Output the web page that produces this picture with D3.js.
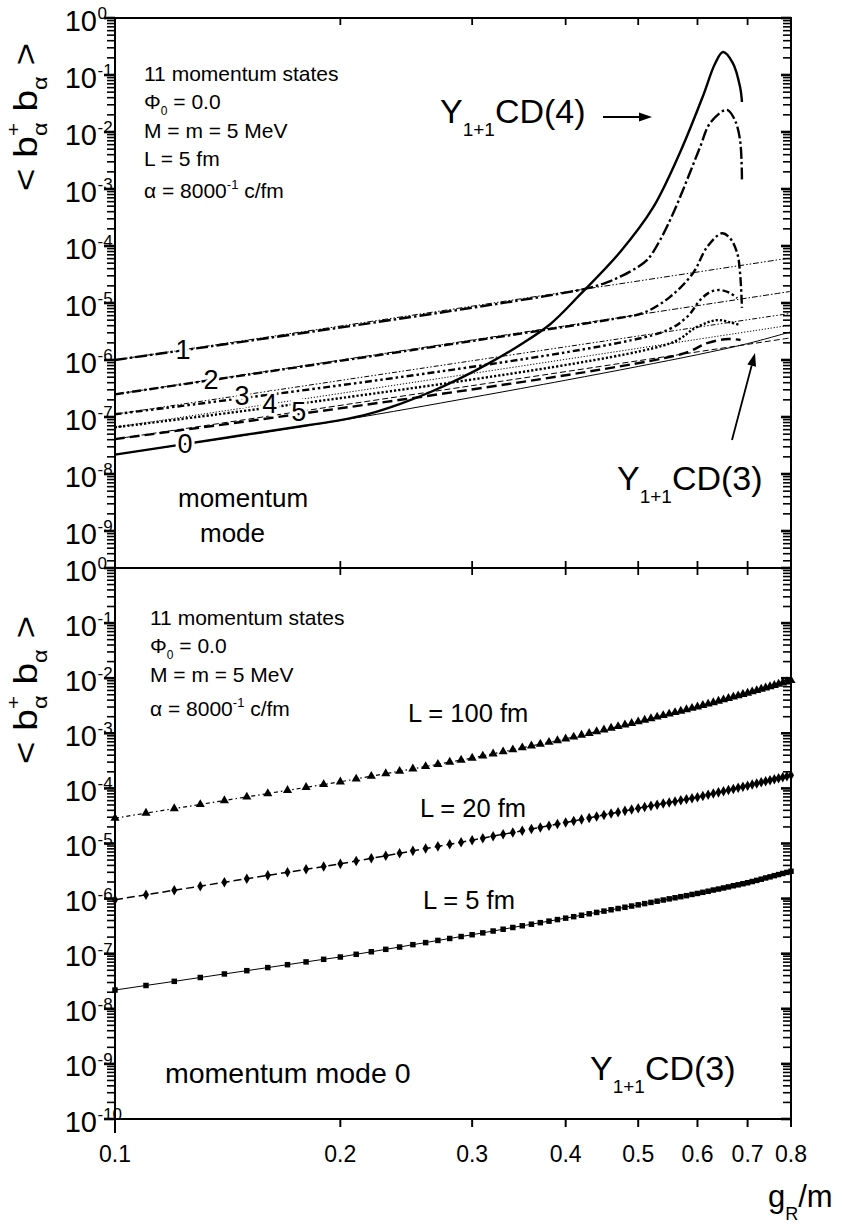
<!DOCTYPE html>
<html><head><meta charset="utf-8">
<script src="https://cdn.jsdelivr.net/npm/d3@7/dist/d3.min.js"></script>
<style>
body{margin:0;background:#fff}
svg{display:block}
text{font-family:"Liberation Sans",Arial,Helvetica,sans-serif;fill:#000}
</style>
</head><body>
<svg id="c" width="841" height="1225"></svg>
<script>
// ---------------- DATA ----------------
const xTickValues = [0.1,0.2,0.3,0.4,0.5,0.6,0.7,0.8];
const xTickLabels = ["0.1","0.2","0.3","0.4","0.5","0.6","0.7","0.8"];
const topYExponents = [0,-1,-2,-3,-4,-5,-6,-7,-8,-9];
const bottomYExponents = [0,-1,-2,-3,-4,-5,-6,-7,-8,-9,-10];

// Top panel: Y(1+1)CD(3) curves, momentum modes 0..5
const cd3Mode0G = [0.1,0.2,0.3,0.4,0.5,0.6,0.7,0.8];
const cd3Mode0V = [2.19e-8,8.71e-8,2.21e-7,4.42e-7,7.71e-7,1.24e-6,1.94e-6,3.13e-6];
const cd3G = [0.1,0.3,0.8];
const cd3Mode1V = [1.0e-6,8.8e-6,6.2e-5];
const cd3Mode2V = [2.5e-7,2.24e-6,1.6e-5];
const cd3Mode3V = [1.12e-7,9.7e-7,6.6e-6];
const cd3Mode4V = [6.6e-8,5.8e-7,4.1e-6];
const cd3Mode5V = [4.1e-8,3.55e-7,2.45e-6];

// Top panel: Y(1+1)CD(4) curves, momentum modes 0..5
const cd4Mode0G = [0.10,0.14,0.18,0.20,0.219,0.240,0.2635,0.289,0.317,0.348,0.381,0.418,0.473,0.523,0.569,0.611,0.633,0.649,0.669,0.684,0.688];
const cd4Mode0V = [2.19e-8,4.29e-8,7.1e-8,8.8e-8,1.15e-7,1.69e-7,2.72e-7,4.75e-7,9.0e-7,1.86e-6,4.2e-6,1.4e-5,7.85e-5,4.65e-4,4.47e-3,4.46e-2,0.156,0.253,0.162,0.0616,0.0336];
const cd4Mode1G = [0.10,0.42,0.454,0.473,0.492,0.514,0.535,0.557,0.581,0.605,0.624,0.657,0.673,0.684,0.688];
const cd4Mode1V = [1.0e-6,1.72e-5,2.3e-5,2.9e-5,3.8e-5,5.7e-5,1.28e-4,3.8e-4,1.44e-3,5.5e-3,1.44e-2,2.45e-2,1.63e-2,7.2e-3,1.4e-3];
const cd4Mode2G = [0.10,0.473,0.508,0.551,0.592,0.618,0.647,0.663,0.678,0.684,0.688];
const cd4Mode2V = [2.5e-7,5.5e-6,6.7e-6,1.27e-5,3.36e-5,9.6e-5,1.67e-4,1.38e-4,7.5e-5,3.36e-5,8.2e-6];
const cd4Mode3G = [0.10,0.535,0.581,0.605,0.624,0.643,0.663,0.678];
const cd4Mode3V = [1.12e-7,3.0e-6,5.7e-6,1.13e-5,1.56e-5,1.69e-5,1.5e-5,1.22e-5];
const cd4Mode4G = [0.10,0.551,0.599,0.637,0.663,0.684];
const cd4Mode4V = [6.6e-8,1.95e-6,3.8e-6,5.0e-6,4.6e-6,4.1e-6];
const cd4Mode5G = [0.10,0.57,0.62,0.66,0.685];
const cd4Mode5V = [4.1e-8,1.26e-6,2.0e-6,2.34e-6,2.24e-6];

const modeLabels = ["0","1","2","3","4","5"];
const modeLabelG = [0.124,0.1233,0.1344,0.1478,0.161,0.176];

// Bottom panel: momentum mode 0 for L = 5, 20, 100 fm
const gGrid = [0.10,0.11,0.12,0.13,0.14,0.15,0.16,0.17,0.18,0.19,
0.20,0.21,0.22,0.23,0.24,0.25,0.26,0.27,0.28,0.29,
0.30,0.31,0.32,0.33,0.34,0.35,0.36,0.37,0.38,0.39,
0.40,0.41,0.42,0.43,0.44,0.45,0.46,0.47,0.48,0.49,
0.50,0.51,0.52,0.53,0.54,0.55,0.56,0.57,0.58,0.59,
0.60,0.61,0.62,0.63,0.64,0.65,0.66,0.67,0.68,0.69,
0.70,0.71,0.72,0.73,0.74,0.75,0.76,0.77,0.78,0.79,0.80];
const valsL5 = [2.19e-8,2.65e-8,3.15e-8,3.70e-8,4.29e-8,4.92e-8,5.60e-8,6.32e-8,7.10e-8,7.91e-8,
8.71e-8,9.75e-8,1.084e-7,1.20e-7,1.32e-7,1.46e-7,1.59e-7,1.74e-7,1.89e-7,2.05e-7,
2.21e-7,2.39e-7,2.58e-7,2.78e-7,2.99e-7,3.21e-7,3.43e-7,3.66e-7,3.90e-7,4.16e-7,
4.42e-7,4.70e-7,4.99e-7,5.30e-7,5.61e-7,5.93e-7,6.27e-7,6.61e-7,6.97e-7,7.33e-7,
7.71e-7,8.11e-7,8.53e-7,8.97e-7,9.42e-7,9.89e-7,1.035e-6,1.084e-6,1.13e-6,1.19e-6,
1.24e-6,1.30e-6,1.36e-6,1.43e-6,1.49e-6,1.56e-6,1.63e-6,1.71e-6,1.78e-6,1.86e-6,
1.94e-6,2.04e-6,2.14e-6,2.25e-6,2.37e-6,2.48e-6,2.61e-6,2.73e-6,2.86e-6,2.99e-6,3.13e-6];
const valsL20 = [9.55e-7,1.17e-6,1.42e-6,1.68e-6,1.98e-6,2.29e-6,2.64e-6,3.01e-6,3.40e-6,3.82e-6,
4.27e-6,4.81e-6,5.38e-6,6.00e-6,6.65e-6,7.35e-6,8.09e-6,8.87e-6,9.70e-6,1.057e-5,
1.148e-5,1.25e-5,1.36e-5,1.47e-5,1.58e-5,1.71e-5,1.83e-5,1.96e-5,2.10e-5,2.25e-5,
2.40e-5,2.56e-5,2.74e-5,2.91e-5,3.10e-5,3.29e-5,3.49e-5,3.70e-5,3.91e-5,4.13e-5,
4.37e-5,4.59e-5,4.82e-5,5.06e-5,5.31e-5,5.56e-5,5.81e-5,6.08e-5,6.35e-5,6.64e-5,
6.92e-5,7.28e-5,7.66e-5,8.05e-5,8.47e-5,8.89e-5,9.31e-5,9.77e-5,1.023e-4,1.072e-4,
1.122e-4,1.175e-4,1.230e-4,1.288e-4,1.346e-4,1.406e-4,1.469e-4,1.535e-4,1.600e-4,1.667e-4,1.738e-4];
const valsL100 = [2.88e-5,3.56e-5,4.30e-5,5.12e-5,6.03e-5,7.01e-5,8.07e-5,9.23e-5,1.045e-4,1.178e-4,
1.318e-4,1.486e-4,1.663e-4,1.854e-4,2.056e-4,2.27e-4,2.50e-4,2.74e-4,3.00e-4,3.27e-4,
3.55e-4,3.89e-4,4.25e-4,4.63e-4,5.04e-4,5.47e-4,5.92e-4,6.38e-4,6.89e-4,7.40e-4,
7.94e-4,8.59e-4,9.29e-4,1.000e-3,1.076e-3,1.159e-3,1.242e-3,1.330e-3,1.422e-3,1.521e-3,
1.622e-3,1.734e-3,1.854e-3,1.977e-3,2.109e-3,2.244e-3,2.388e-3,2.535e-3,2.692e-3,2.851e-3,
3.020e-3,3.214e-3,3.412e-3,3.622e-3,3.846e-3,4.074e-3,4.305e-3,4.560e-3,4.819e-3,5.093e-3,
5.370e-3,5.69e-3,6.00e-3,6.34e-3,6.70e-3,7.06e-3,7.45e-3,7.83e-3,8.26e-3,8.67e-3,9.12e-3];

// ---------------- LAYOUT ----------------
const X0 = 115, X1 = 791, YT = 18, YM = 568, YB = 1119;
const svg = d3.select("#c");
const x = d3.scaleLog().domain([0.1,0.8]).range([X0,X1]);
const yTop = d3.scaleLog().domain([Math.pow(10,-9.649),1]).range([YM,YT]);
const yBot = d3.scaleLog().domain([1e-10,1]).range([YB,YM]);

const zip = (gs,vs) => gs.map((g,i)=>[g,vs[i]]);
const smooth = (ys) => d3.line().x(d=>x(d[0])).y(d=>ys(d[1])).curve(d3.curveCatmullRom.alpha(0.5));
const straight = (ys) => d3.line().x(d=>x(d[0])).y(d=>ys(d[1]));

// ---------------- TOP PANEL CURVES ----------------
const gt = svg.append("g");
const thinStyles = [null,"6,2,1.5,2,1.5,2","6,2,1.5,2","5,2,1.5,2,1.5,2","1.2,1.8","6,3"];
const thickStyles = [null,"12,3,2.5,3","9,3,2.5,3","7,3,2.5,3,2.5,3","2.2,2","10,5"];
const cd3Sets = [zip(cd3Mode0G,cd3Mode0V),zip(cd3G,cd3Mode1V),zip(cd3G,cd3Mode2V),zip(cd3G,cd3Mode3V),zip(cd3G,cd3Mode4V),zip(cd3G,cd3Mode5V)];
const cd4Sets = [zip(cd4Mode0G,cd4Mode0V),zip(cd4Mode1G,cd4Mode1V),zip(cd4Mode2G,cd4Mode2V),zip(cd4Mode3G,cd4Mode3V),zip(cd4Mode4G,cd4Mode4V),zip(cd4Mode5G,cd4Mode5V)];
cd3Sets.forEach((d,i)=>{
  gt.append("path").attr("d",smooth(yTop)(d)).attr("fill","none").attr("stroke","#000")
    .attr("stroke-width",1).attr("stroke-dasharray",thinStyles[i]);
});
cd4Sets.forEach((d,i)=>{
  gt.append("path").attr("d",smooth(yTop)(d)).attr("fill","none").attr("stroke","#000")
    .attr("stroke-width",2.4).attr("stroke-dasharray",thickStyles[i]);
});
function valAt(set,g){
  for(let i=0;i<set.length-1;i++){
    const a=set[i],b=set[i+1];
    if(g>=a[0]&&g<=b[0]){
      const t=(Math.log(g)-Math.log(a[0]))/(Math.log(b[0])-Math.log(a[0]));
      return Math.exp(Math.log(a[1])+t*(Math.log(b[1])-Math.log(a[1])));
    }
  }
  return set[0][1];
}
modeLabels.forEach((lab,i)=>{
  const g=modeLabelG[i], v=valAt(cd3Sets[i],g);
  const lx=x(g), ly=yTop(v)+9.5;
  gt.append("text").attr("x",lx).attr("y",ly).attr("text-anchor","middle")
    .attr("font-size",27).style("fill","#fff").attr("stroke","#fff").attr("stroke-width",6)
    .text(lab);
  gt.append("text").attr("x",lx).attr("y",ly).attr("text-anchor","middle")
    .attr("font-size",27).text(lab);
});

// ---------------- BOTTOM PANEL CURVES ----------------
const gb = svg.append("g");
const bottomSeries = [
  {vals:valsL100, dash:"4,3,1.5,3", w:1.2, sym:d3.symbolTriangle, size:36},
  {vals:valsL20, dash:"8,4", w:1.5, sym:d3.symbolDiamond, size:32},
  {vals:valsL5, dash:null, w:1, sym:d3.symbolSquare, size:30}
];
bottomSeries.forEach(s=>{
  const d=zip(gGrid,s.vals);
  gb.append("path").attr("d",straight(yBot)(d)).attr("fill","none").attr("stroke","#000")
    .attr("stroke-width",s.w).attr("stroke-dasharray",s.dash);
  gb.selectAll(null).data(d).enter().append("path")
    .attr("d",d3.symbol().type(s.sym).size(s.size))
    .attr("transform",p=>`translate(${x(p[0])},${yBot(p[1])})`)
    .attr("fill","#000");
});

// ---------------- AXES / FRAMES ----------------
const ax = svg.append("g").attr("stroke","#000").attr("fill","none");
ax.append("rect").attr("x",X0).attr("y",YT).attr("width",X1-X0).attr("height",YM-YT).attr("stroke-width",2);
ax.append("rect").attr("x",X0).attr("y",YM).attr("width",X1-X0).attr("height",YB-YM).attr("stroke-width",2);

function yTickList(ys){
  const [lo,hi]=ys.domain(); const out=[];
  for(let e=-10;e<=0;e++) for(let m=1;m<=9;m++){
    const v=m*Math.pow(10,e);
    if(v>=lo*0.9999&&v<=hi*1.0001) out.push({v,major:m===1});
  }
  return out;
}
[yTop,yBot].forEach(ys=>{
  yTickList(ys).forEach(t=>{
    const yy=ys(t.v);
    ax.append("line").attr("x1",t.major?104:107).attr("x2",X0).attr("y1",yy).attr("y2",yy).attr("stroke-width",t.major?2.6:1.6);
    ax.append("line").attr("x1",X1-(t.major?10:8)).attr("x2",X1).attr("y1",yy).attr("y2",yy).attr("stroke-width",t.major?2.6:1.6);
  });
});
xTickValues.forEach(v=>{
  const xx=x(v);
  if(v>0.1&&v<0.8){
    ax.append("line").attr("x1",xx).attr("x2",xx).attr("y1",YT).attr("y2",YT+7).attr("stroke-width",1.8);
    ax.append("line").attr("x1",xx).attr("x2",xx).attr("y1",YM-7).attr("y2",YM+7).attr("stroke-width",1.8);
  }
  ax.append("line").attr("x1",xx).attr("x2",xx).attr("y1",YB).attr("y2",v===0.1?YB+14:YB+8).attr("stroke-width",2);
});

// tick labels
const tl = svg.append("g");
function yLabels(ys,exps){
  exps.forEach(e=>{
    const yy=ys(Math.pow(10,e));
    tl.append("text").attr("x",97).attr("y",yy+12.5).attr("text-anchor","end").attr("font-size",29).text("10");
    tl.append("text").attr("x",97.5).attr("y",yy+1).attr("font-size",17).text(e===0?"0":"-"+(-e));
  });
}
yLabels(yTop,topYExponents);
yLabels(yBot,bottomYExponents);
xTickValues.forEach((v,i)=>{
  tl.append("text").attr("x",x(v)).attr("y",1162).attr("text-anchor","middle").attr("font-size",23).text(xTickLabels[i]);
});
const xt = tl.append("text").attr("x",768).attr("y",1207).attr("font-size",31);
xt.append("tspan").text("g");
xt.append("tspan").attr("font-size",18).attr("dy",13).text("R");
xt.append("tspan").attr("dy",-13).text("/m");

function yTitle(cy){
  const t = tl.append("text").attr("transform",`translate(37,${cy}) rotate(-90) scale(1.18,1)`)
    .attr("text-anchor","middle").attr("font-size",33);
  t.append("tspan").text("< b");
  t.append("tspan").attr("font-size",19).attr("dy",-17).text("+");
  t.append("tspan").attr("font-size",20).attr("dx",-11).attr("dy",27).text("α");
  t.append("tspan").attr("dy",-10).text(" b");
  t.append("tspan").attr("font-size",20).attr("dy",10).text("α");
  t.append("tspan").attr("dy",-10).text(" >");
}
yTitle(117);
yTitle(690);

// ---------------- ANNOTATIONS ----------------
function paramBlock(x0,lines){
  lines.forEach(l=>{
    const t=tl.append("text").attr("x",x0).attr("y",l.y).attr("font-size",21);
    if(l.kind==="phi"){
      t.append("tspan").text("Φ");
      t.append("tspan").attr("font-size",12).attr("dy",6).text("0");
      t.append("tspan").attr("dy",-6).text(" = 0.0");
    } else if(l.kind==="alpha"){
      t.append("tspan").text("α = 8000");
      t.append("tspan").attr("font-size",13).attr("dy",-9).text("-1");
      t.append("tspan").attr("dy",9).text(" c/fm");
    } else t.text(l.text);
  });
}
paramBlock(144,[{y:81,text:"11 momentum states"},{y:109,kind:"phi"},{y:138,text:"M = m = 5 MeV"},{y:166,text:"L = 5 fm"},{y:198,kind:"alpha"}]);
paramBlock(150,[{y:625,text:"11 momentum states"},{y:653,kind:"phi"},{y:682,text:"M = m = 5 MeV"},{y:716,kind:"alpha"}]);

function yLabelText(x0,y0,suffix){
  const t=tl.append("text").attr("x",x0).attr("y",y0).attr("font-size",34);
  t.append("tspan").text("Y");
  t.append("tspan").attr("font-size",19).attr("dy",13).text("1+1");
  t.append("tspan").attr("dy",-13).text("CD("+suffix+")");
}
yLabelText(440,123,"4");
yLabelText(617,490,"3");
yLabelText(590,1080,"3");

tl.append("text").attr("x",178).attr("y",507).attr("font-size",26).text("momentum");
tl.append("text").attr("x",200).attr("y",542).attr("font-size",26).text("mode");
tl.append("text").attr("x",165).attr("y",1083).attr("font-size",28.5).text("momentum mode 0");
tl.append("text").attr("x",408).attr("y",722).attr("font-size",25.5).text("L = 100 fm");
tl.append("text").attr("x",420).attr("y",817).attr("font-size",25.5).text("L = 20 fm");
tl.append("text").attr("x",423).attr("y",909).attr("font-size",25.5).text("L = 5 fm");

const ar = svg.append("g");
function arrow(x1,y1,x2,y2){
  const dx=x2-x1, dy=y2-y1, L=Math.hypot(dx,dy), ux=dx/L, uy=dy/L, hl=13, hw=4.5;
  const bx=x2-ux*hl, by=y2-uy*hl;
  ar.append("line").attr("x1",x1).attr("y1",y1).attr("x2",bx).attr("y2",by).attr("stroke","#000").attr("stroke-width",1.8);
  ar.append("path").attr("d",`M${x2},${y2}L${bx-uy*hw},${by+ux*hw}L${bx+uy*hw},${by-ux*hw}Z`).attr("fill","#000");
}
arrow(603,117,652,117);
arrow(732,440,755,353);
</script>
</body></html>
